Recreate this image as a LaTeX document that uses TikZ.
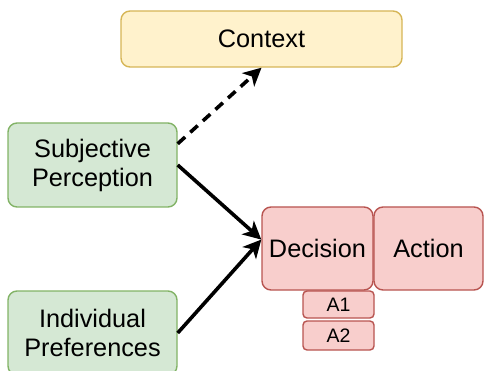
\documentclass[tikz,border=0pt]{standalone}
\usepackage{fontspec}
\setmainfont{Liberation Sans}
\usetikzlibrary{arrows.meta}
\definecolor{ctxfill}{HTML}{FFF2CC}
\definecolor{ctxline}{HTML}{D6B656}
\definecolor{inpfill}{HTML}{D5E8D4}
\definecolor{inpline}{HTML}{82B366}
\definecolor{decfill}{HTML}{F8CECC}
\definecolor{decline}{HTML}{B85450}
\tikzset{
  box/.style={rectangle,rounded corners=9pt,line width=1.4pt,inner sep=0pt,
    align=center,font=\fontsize{25.3}{29}\selectfont},
  ctxbox/.style={box,draw=ctxline,fill=ctxfill},
  inpbox/.style={box,draw=inpline,fill=inpfill},
  decbox/.style={box,draw=decline,fill=decfill},
  optbox/.style={decbox,rounded corners=4pt,font=\fontsize{19.5}{22}\selectfont}
}
\def\drawflow{\draw[line width=3.6pt,-{Stealth[length=18pt,width=18pt,inset=5pt]}]}

\begin{document}
\begin{tikzpicture}[x=1pt,y=-1pt]
\useasboundingbox (0,0) rectangle (484,371);

\node[ctxbox,minimum width=281pt,minimum height=56pt] (ctx) at (261.5,39) {Context};
\node[inpbox,minimum width=169pt,minimum height=84pt] (perc) at (92.5,165) {Subjective\\Perception};
\node[inpbox,minimum width=169pt,minimum height=84pt] (pref) at (92.5,333) {Individual\\Preferences};

% decision block with its options underneath
\node[decbox,minimum width=111pt,minimum height=83pt] (dec) at (317.5,248.5) {Decision};
\node[decbox,minimum width=109pt,minimum height=83pt] (act) at (428.5,248.5) {Action};
\node[optbox,minimum width=71pt,minimum height=27pt] (a1) at (338.5,304.5) {A1};
\node[optbox,minimum width=71pt,minimum height=29pt] (a2) at (338.5,335.5) {A2};

\drawflow[dash pattern=on 10pt off 7pt] (perc.14) -- (ctx.south);
\drawflow (perc.east) -- (dec.171);
\drawflow (pref.east) -- (dec.171);
\end{tikzpicture}
\end{document}
